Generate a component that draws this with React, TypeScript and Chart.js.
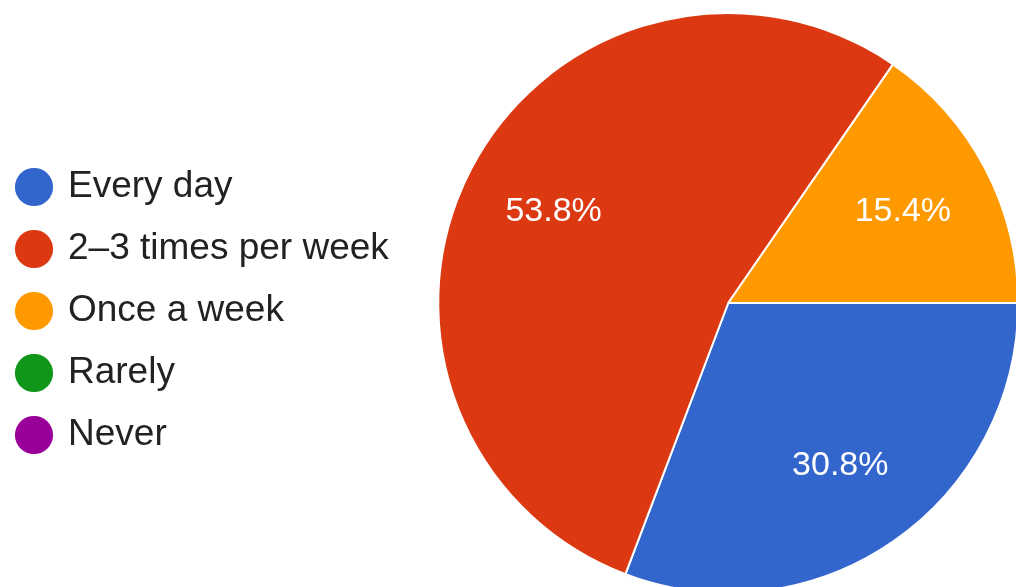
import React, { useEffect, useRef } from "react";
import { Chart, registerables } from "chart.js";

Chart.register(...registerables);

const categories = ["Every day", "2–3 times per week", "Once a week", "Rarely", "Never"];
const responses = [4, 7, 2, 0, 0];
const sliceColors = ["#3366cc", "#dc3912", "#ff9900", "#109618", "#990099"];

const FONT = "'Liberation Sans', Arial, sans-serif";

const pctLabels = {
  id: "pctLabels",
  afterDatasetsDraw(chart: any) {
    const ctx = chart.ctx;
    const meta = chart.getDatasetMeta(0);
    const data = chart.data.datasets[0].data as number[];
    const total = data.reduce((a, b) => a + b, 0);
    ctx.save();
    ctx.fillStyle = "#ffffff";
    ctx.font = `34px ${FONT}`;
    ctx.textAlign = "center";
    ctx.textBaseline = "middle";
    meta.data.forEach((arc: any, i: number) => {
      const v = data[i];
      if (!v) return;
      const p = arc.getProps(["x", "y", "startAngle", "endAngle", "outerRadius"], true);
      const mid = (p.startAngle + p.endAngle) / 2;
      const r = p.outerRadius * 0.68;
      const txt = ((v / total) * 100).toFixed(1) + "%";
      ctx.fillText(txt, p.x + r * Math.cos(mid), p.y + r * Math.sin(mid));
    });
    ctx.restore();
  },
};

export default function App() {
  const ref = useRef<HTMLCanvasElement | null>(null);
  useEffect(() => {
    if (!ref.current) return;
    const chart = new Chart(ref.current, {
      type: "pie",
      data: {
        labels: categories,
        datasets: [
          {
            data: responses,
            backgroundColor: sliceColors,
            borderColor: "#ffffff",
            borderWidth: 2,
            clip: false as any,
          },
        ],
      },
      options: {
        animation: false,
        responsive: false,
        rotation: 90,
        radius: 290,
        layout: { padding: { left: -6.5, top: 19, right: 0, bottom: 0 } },
        plugins: {
          tooltip: { enabled: false },
          legend: {
            position: "left",
            align: "center",
            maxWidth: 400,
            title: { display: true, text: "", padding: 0, font: { size: 16, lineHeight: 1 } },
            labels: {
              usePointStyle: true,
              boxWidth: 31,
              boxHeight: 27,
              padding: 25,
              color: "#222222",
              font: { size: 37, family: FONT },
              generateLabels: () =>
                categories.map((c, i) => ({
                  text: c,
                  fillStyle: sliceColors[i],
                  strokeStyle: sliceColors[i],
                  lineWidth: 0,
                  pointStyle: "circle",
                  hidden: false,
                  index: i,
                  fontColor: "#222222",
                })),
            },
          },
        },
      } as any,
      plugins: [pctLabels],
    });
    return () => chart.destroy();
  }, []);
  return (
    <div
      style={{
        position: "fixed",
        left: 0,
        top: 0,
        width: 1016,
        height: 587,
        overflow: "hidden",
        background: "#ffffff",
      }}
    >
      <canvas ref={ref} width={1063} height={587} style={{ display: "block", width: 1063, height: 587 }} />
    </div>
  );
}
